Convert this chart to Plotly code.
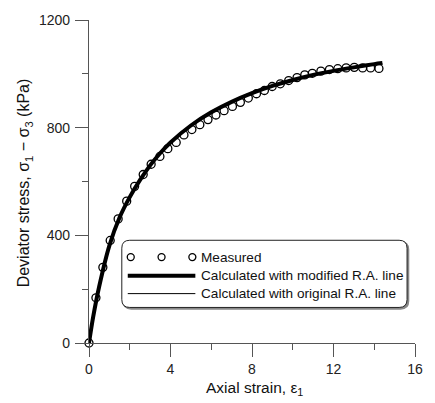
import plotly.graph_objects as go

# ---- data ----
meas_strain = [0, 0.34, 0.68, 1.04, 1.43, 1.85, 2.24, 2.66, 3.05, 3.48, 3.87, 4.28, 4.66,
               5.05, 5.44, 5.84, 6.23, 6.63, 7.04, 7.43, 7.82, 8.22, 8.61, 8.99, 9.39,
               9.80, 10.21, 10.59, 10.96, 11.38, 11.80, 12.21, 12.62, 13.02, 13.43, 13.82, 14.23]
meas_stress = [0, 168, 281, 381, 461, 527, 582, 626, 664, 693, 722, 745, 773,
               793, 811, 830, 847, 863, 879, 894, 910, 926, 938, 953, 963,
               975, 986, 996, 1002, 1010, 1016, 1019, 1022, 1024, 1022, 1022, 1020]

mod_strain = [0, 0.2, 0.5, 1.0, 1.5, 2.0, 2.5, 3.0, 3.5, 4, 5, 6, 7, 8, 9, 10, 11, 12, 13, 14, 14.4]
mod_stress = [0, 95, 210, 362, 466, 542, 605, 660, 706, 745, 808, 857, 896, 928, 955,
              977, 996, 1011, 1024, 1036, 1040]

orig_strain = [0, 0.2, 0.5, 1.0, 1.5, 2.0, 2.5, 3.0, 3.5, 4, 5, 6, 7, 8, 9, 10, 11, 12, 13, 14, 14.4]
orig_stress = [0, 94, 208, 359, 463, 539, 602, 657, 703, 742, 805, 854, 893, 925, 952,
               974, 993, 1008, 1021, 1033, 1037]

x_ticks = [0, 4, 8, 12, 16]
y_ticks = [0, 400, 800, 1200]

legend_labels = ["Measured", "Calculated with modified R.A. line", "Calculated with original R.A. line"]

FONT = "Liberation Sans, Arial, sans-serif"
W, H = 435, 403
L, R, T, B = 89, 18, 16, 60
PW, PH = W - L - R, H - T - B


def px2paper(px, py):
    return (px - L) / PW, (H - B - py) / PH


fig = go.Figure()
fig.add_trace(go.Scatter(x=meas_strain, y=meas_stress, mode="markers", cliponaxis=False,
                         marker=dict(symbol="circle-open", size=8, color="black",
                                     line=dict(width=1.3, color="black")),
                         showlegend=False))
fig.add_trace(go.Scatter(x=orig_strain, y=orig_stress, mode="lines", cliponaxis=False,
                         line=dict(color="black", width=1, shape="spline", smoothing=0.8),
                         showlegend=False))
fig.add_trace(go.Scatter(x=mod_strain, y=mod_stress, mode="lines", cliponaxis=False,
                         line=dict(color="black", width=4, shape="spline", smoothing=0.8),
                         showlegend=False))

axis_common = dict(showgrid=False, zeroline=False, showline=True, linecolor="#555",
                   linewidth=1.2, ticks="outside", ticklen=13, tickwidth=1.2, tickcolor="#555",
                   tickfont=dict(family=FONT, size=14, color="#222"))

fig.update_xaxes(range=[0, 16], tickvals=x_ticks, ticktext=[str(v) for v in x_ticks],
                 minor=dict(tickvals=[2, 6, 10, 14], ticklen=6, tickcolor="#555", ticks="outside",
                            tickwidth=1.2),
                 ticklabelstandoff=0,
                 **axis_common)
fig.update_yaxes(range=[0, 1200], tickvals=y_ticks, ticktext=[str(v) for v in y_ticks],
                 minor=dict(tickvals=[200, 600, 1000], ticklen=6, tickcolor="#555", ticks="outside",
                            tickwidth=1.2),
                 ticklabelstandoff=2,
                 **axis_common)

shapes = []
annotations = []

# axis titles
annotations.append(dict(text="Axial strain, ε<sub>1</sub>", xref="paper", yref="paper",
                        x=px2paper(256, 0)[0], y=px2paper(0, 389)[1], xanchor="center", yanchor="middle",
                        showarrow=False, font=dict(family=FONT, size=15.5, color="#111")))
annotations.append(dict(text="Deviator stress, σ<sub>1</sub> − σ<sub>3</sub> (kPa)",
                        xref="paper", yref="paper", x=px2paper(25, 0)[0], y=px2paper(0, 181)[1],
                        textangle=-90, xanchor="center", yanchor="middle",
                        showarrow=False, font=dict(family=FONT, size=16, color="#111")))


# legend box (rounded)
def rounded_path(x0, y0, x1, y1, r):
    def P(px, py):
        a, b = px2paper(px, py)
        return f"{a:.5f},{b:.5f}"
    return (f"M {P(x0 + r, y0)} L {P(x1 - r, y0)} Q {P(x1, y0)} {P(x1, y0 + r)} "
            f"L {P(x1, y1 - r)} Q {P(x1, y1)} {P(x1 - r, y1)} "
            f"L {P(x0 + r, y1)} Q {P(x0, y1)} {P(x0, y1 - r)} "
            f"L {P(x0, y0 + r)} Q {P(x0, y0)} {P(x0 + r, y0)} Z")


bx0, by0, bx1, by1 = 122, 239, 409, 307
shapes.append(dict(type="path", xref="paper", yref="paper",
                   path=rounded_path(bx0 + 1.5, by0 + 1.5, bx1 + 1.5, by1 + 1.5, 8),
                   line=dict(color="#888", width=1.5), fillcolor="#888", layer="above"))
shapes.append(dict(type="path", xref="paper", yref="paper",
                   path=rounded_path(bx0, by0, bx1, by1, 8),
                   line=dict(color="#222", width=1), fillcolor="white", layer="above"))

rows_y = [256, 275, 293]
# measured symbols
for cx in [131, 162, 193]:
    a, b = px2paper(cx, rows_y[0])
    shapes.append(dict(type="circle", xref="paper", yref="paper", xsizemode="pixel",
                       ysizemode="pixel", xanchor=a, yanchor=b, x0=-3.5, x1=3.5, y0=-3.5, y1=3.5,
                       line=dict(color="black", width=1.3), layer="above"))
# thick and thin line symbols
for ry, wdt in [(rows_y[1], 4), (rows_y[2], 1)]:
    a0, b0 = px2paper(128, ry)
    a1, _ = px2paper(196, ry)
    shapes.append(dict(type="line", xref="paper", yref="paper", x0=a0, x1=a1, y0=b0, y1=b0,
                       line=dict(color="black", width=wdt), layer="above"))
for lab, ry in zip(legend_labels, rows_y):
    a, b = px2paper(200, ry)
    annotations.append(dict(text=lab, xref="paper", yref="paper", x=a, y=b,
                            xanchor="left", yanchor="middle", showarrow=False,
                            font=dict(family=FONT, size=13.6, color="#111")))

fig.update_layout(width=W, height=H, margin=dict(l=L, r=R, t=T, b=B, pad=0),
                  plot_bgcolor="white", paper_bgcolor="white", showlegend=False,
                  shapes=shapes, annotations=annotations,
                  font=dict(family=FONT))

fig.write_html("out.html")
